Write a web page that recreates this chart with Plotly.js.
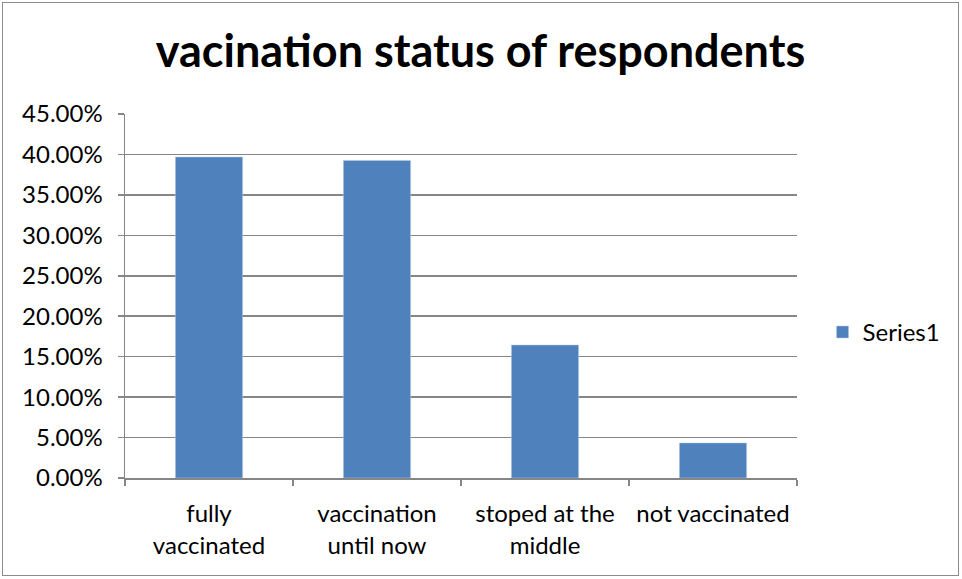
<!DOCTYPE html>
<html><head><meta charset="utf-8">
<script src="https://cdn.plot.ly/plotly-3.0.1.min.js"></script>
<style>
body{margin:0;background:#fff;}
#wrap{position:absolute;left:2px;top:2px;width:955px;height:572px;border:1.5px solid #8c8c8c;}
#chart{width:955px;height:572px;}
</style></head>
<body><div id="wrap"><div id="chart"></div></div>
<script>
const categories = ["fully<br>vaccinated", "vaccination<br>until now", "stoped at the<br>middle", "not vaccinated"];
const values = [0.3968, 0.3926, 0.1644, 0.0433];
const yTicks = [0, 0.05, 0.10, 0.15, 0.20, 0.25, 0.30, 0.35, 0.40, 0.45];
const yTickText = ["0.00%", "5.00%", "10.00%", "15.00%", "20.00%", "25.00%", "30.00%", "35.00%", "40.00%", "45.00%"];
const seriesName = "Series1";
const titleText = "vacination status of respondents";

const font = "Lato, 'Open Sans', sans-serif";
Plotly.newPlot("chart", [{
  type: "bar", x: categories, y: values, name: seriesName,
  marker: {color: "#4F81BD", line: {color: "#b9cde5", width: 0.5}},
  width: 0.4, showlegend: true
}], {
  width: 955, height: 572,
  margin: {l: 122, r: 161, t: 111, b: 97},
  paper_bgcolor: "#fff", plot_bgcolor: "#fff",
  title: {text: "<b>" + titleText + "</b>", font: {family: font, size: 45, color: "#000"}, x: 0.5, xanchor: "center", y: 0.915, yanchor: "middle"},
  font: {family: font, size: 24, color: "#000"},
  xaxis: {type: "category", showline: true, linecolor: "#868686", linewidth: 1.5, ticks: "outside", ticklen: 6, tickcolor: "#868686", tickwidth: 1.5, tickson: "boundaries", showgrid: false, tickfont: {size: 24, family: font}, ticklabelstandoff: 14, fixedrange: true},
  yaxis: {range: [0, 0.45], tickvals: yTicks, ticktext: yTickText, showline: true, linecolor: "#868686", linewidth: 1.5, ticks: "outside", ticklen: 6, tickcolor: "#868686", tickwidth: 1.5, showgrid: true, gridcolor: "#868686", gridwidth: 1.5, zeroline: false, tickfont: {size: 24, family: font}, ticklabelstandoff: 10},
  legend: {x: 1.038, xanchor: "left", y: 0.40, yanchor: "middle", font: {size: 24, family: font}, bgcolor: "rgba(0,0,0,0)"},
  bargap: 0.6
}, {displayModeBar: false, staticPlot: true});
</script></body></html>
